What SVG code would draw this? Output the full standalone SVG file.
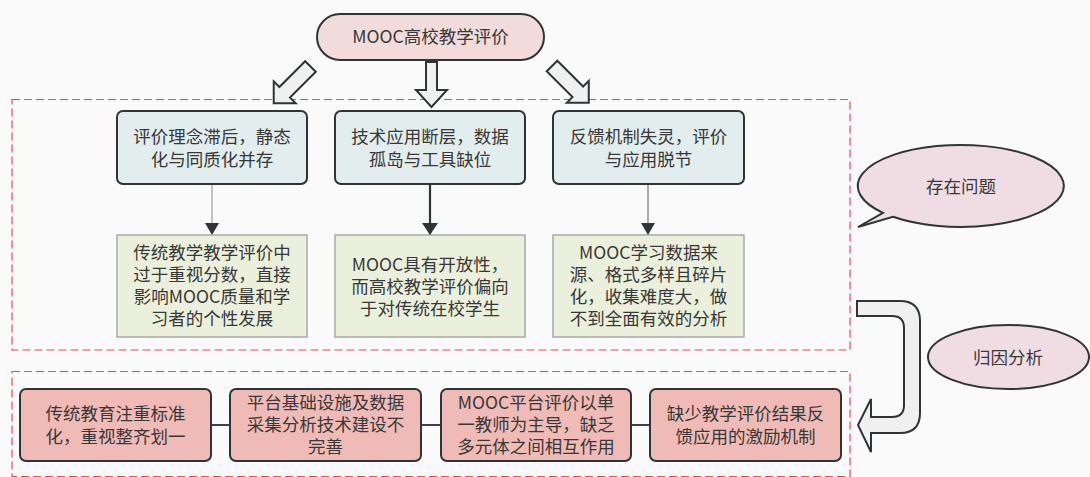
<svg xmlns="http://www.w3.org/2000/svg" width="1090" height="477" viewBox="0 0 1090 477">
<defs>
<style>
.t{font-family:"Noto Sans CJK SC","Liberation Sans",sans-serif;font-size:17.5px;fill:#383838;text-anchor:middle}
.blue{fill:#e2eded;stroke:#2f3536;stroke-width:2}
.green{fill:#ebf0dc;stroke:#a8aaa4;stroke-width:1.5}
.pink{fill:#f0bbb6;stroke:#2f3536;stroke-width:2}
.bub{fill:#f0dde3;stroke:#2f3536;stroke-width:2}
.big{fill:#f0f0f0;stroke:#2f3536;stroke-width:2;stroke-linejoin:miter}
.dash{fill:none;stroke:#ec4b4b;stroke-width:1.2;stroke-dasharray:8 4}
</style>
<marker id="ah" viewBox="0 0 12 16" refX="12" refY="8" markerWidth="12" markerHeight="16" markerUnits="userSpaceOnUse" orient="auto">
<path d="M0,1 L12,8 L0,15 Z" fill="#2f3536"/>
</marker>
<marker id="ah2" viewBox="0 0 12 18" refX="12" refY="9" markerWidth="14" markerHeight="18" markerUnits="userSpaceOnUse" orient="auto">
<path d="M0,1 L12,9 L0,17 Z" fill="#2f3536"/>
</marker>
</defs>
<rect width="1090" height="477" fill="#fafafa"/>

<rect class="dash" x="12" y="99.5" width="838" height="250.5"/>
<rect class="dash" x="12" y="371.5" width="838" height="105"/>

<g id="connectors">
<line x1="212" y1="184" x2="212" y2="235" stroke="#9a9a9a" stroke-width="1.2" marker-end="url(#ah)"/>
<line x1="430" y1="184" x2="430" y2="235" stroke="#2f3536" stroke-width="2.2" marker-end="url(#ah2)"/>
<line x1="648" y1="184" x2="648" y2="235" stroke="#777" stroke-width="1.2" marker-end="url(#ah)"/>
<line x1="211" y1="425" x2="230" y2="425" stroke="#3d4446" stroke-width="2"/>
<line x1="421" y1="425" x2="441" y2="425" stroke="#3d4446" stroke-width="2"/>
<line x1="631" y1="425" x2="650" y2="425" stroke="#3d4446" stroke-width="2"/>
<path class="big" transform="translate(310.5,66.5) rotate(135)" d="M0,-7.5 L36.5,-7.5 L36.5,-15.5 L52,0 L36.5,15.5 L36.5,7.5 L0,7.5 Z"/>
<path class="big" d="M426,62 L437,62 L437,90 L447,90 L431.5,107 L416,90 L426,90 Z"/>
<path class="big" transform="translate(552,66) rotate(45)" d="M0,-7.5 L36.5,-7.5 L36.5,-15.5 L52,0 L36.5,15.5 L36.5,7.5 L0,7.5 Z"/>
<path class="big" d="M857,301 L900,301 Q920,301 920,321 L920,413 Q920,433 900,433 L871,433 L871,452 L858,425 L871,399 L871,417 L892,417 Q904,417 904,405 L904,328 Q904,316 892,316 L857,316 Z"/>
</g>

<g id="top">
<rect x="317" y="14" width="227" height="46" rx="23" fill="#f2dcdb" stroke="#2f3536" stroke-width="2"/>
<text class="t" x="430.5" y="43">MOOC高校教学评价</text>
</g>

<g id="b1"><rect class="blue" x="117" y="111" width="190" height="73" rx="6"/>
<text class="t" x="212" y="143">评价理念滞后，静态</text><text class="t" x="212" y="166">化与同质化并存</text></g>
<g id="b2"><rect class="blue" x="335" y="111" width="190" height="73" rx="6"/>
<text class="t" x="430" y="143">技术应用断层，数据</text><text class="t" x="430" y="166">孤岛与工具缺位</text></g>
<g id="b3"><rect class="blue" x="553" y="111" width="191" height="73" rx="6"/>
<text class="t" x="648.5" y="143">反馈机制失灵，评价</text><text class="t" x="648.5" y="166">与应用脱节</text></g>

<g id="g1"><rect class="green" x="117" y="235" width="190" height="102"/>
<text class="t" x="212" y="259">传统教学教学评价中</text><text class="t" x="212" y="281">过于重视分数，直接</text><text class="t" x="212" y="303">影响MOOC质量和学</text><text class="t" x="212" y="325">习者的个性发展</text></g>
<g id="g2"><rect class="green" x="335" y="235" width="190" height="102"/>
<text class="t" x="430" y="271">MOOC具有开放性，</text><text class="t" x="430" y="293">而高校教学评价偏向</text><text class="t" x="430" y="315">于对传统在校学生</text></g>
<g id="g3"><rect class="green" x="553" y="235" width="191" height="102"/>
<text class="t" x="648.5" y="259">MOOC学习数据来</text><text class="t" x="648.5" y="281">源、格式多样且碎片</text><text class="t" x="648.5" y="303">化，收集难度大，做</text><text class="t" x="648.5" y="325">不到全面有效的分析</text></g>

<g id="problem">
<path class="bub" d="M883,212.8 L858,227 L893,216.8 A103,41 0 1 0 883,212.8 Z"/>
<text class="t" x="961" y="193">存在问题</text>
</g>
<g id="cause">
<ellipse class="bub" cx="1008.5" cy="357" rx="80.5" ry="32"/>
<text class="t" x="1008" y="364">归因分析</text>
</g>

<g id="p1"><rect class="pink" x="20" y="389" width="191" height="72" rx="6"/>
<text class="t" x="115.5" y="420">传统教育注重标准</text><text class="t" x="115.5" y="443">化，重视整齐划一</text></g>
<g id="p2"><rect class="pink" x="230" y="389" width="191" height="72" rx="6"/>
<text class="t" x="325.5" y="409">平台基础设施及数据</text><text class="t" x="325.5" y="431">采集分析技术建设不</text><text class="t" x="325.5" y="453">完善</text></g>
<g id="p3"><rect class="pink" x="441" y="389" width="190" height="72" rx="6"/>
<text class="t" x="536" y="409">MOOC平台评价以单</text><text class="t" x="536" y="431">一教师为主导，缺乏</text><text class="t" x="536" y="453">多元体之间相互作用</text></g>
<g id="p4"><rect class="pink" x="650" y="389" width="191" height="72" rx="6"/>
<text class="t" x="745.5" y="420">缺少教学评价结果反</text><text class="t" x="745.5" y="443">馈应用的激励机制</text></g>
</svg>
